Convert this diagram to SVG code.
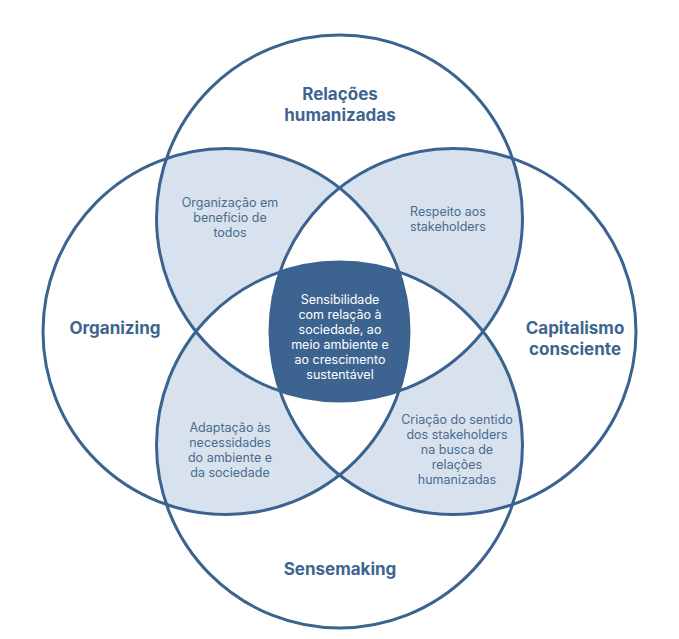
<svg xmlns="http://www.w3.org/2000/svg" width="679" height="639" viewBox="0 0 679 639">
<style>
.ring{fill:none;stroke:#3b6390;stroke-width:3}
.lens{fill:#d7e2ee}
.tri{fill:#ffffff}
.core{fill:#3d6491}
.lbl{font-family:Inter,"Liberation Sans",sans-serif;font-weight:700;font-size:17px;fill:#3e658f;text-anchor:middle}
.sm{font-family:Inter,"Liberation Sans",sans-serif;font-size:12.5px;fill:#4a6b8f;text-anchor:middle}
.wt{font-family:Inter,"Liberation Sans",sans-serif;font-size:12.5px;fill:#ffffff;text-anchor:middle}
</style>
<defs>
<clipPath id="cT"><circle cx="339.5" cy="218" r="183"/></clipPath>
<clipPath id="cB"><circle cx="339.5" cy="445" r="183"/></clipPath>
<clipPath id="cL"><circle cx="226" cy="331.5" r="183"/></clipPath>
<clipPath id="cR"><circle cx="453" cy="331.5" r="183"/></clipPath>
</defs>
<rect width="679" height="639" fill="#ffffff"/>
<g id="fills">
<g clip-path="url(#cL)"><circle class="lens" cx="339.5" cy="218" r="183"/></g>
<g clip-path="url(#cR)"><circle class="lens" cx="339.5" cy="218" r="183"/></g>
<g clip-path="url(#cL)"><circle class="lens" cx="339.5" cy="445" r="183"/></g>
<g clip-path="url(#cR)"><circle class="lens" cx="339.5" cy="445" r="183"/></g>
<g clip-path="url(#cL)"><g clip-path="url(#cR)"><circle class="tri" cx="339.5" cy="218" r="183"/></g></g>
<g clip-path="url(#cL)"><g clip-path="url(#cR)"><circle class="tri" cx="339.5" cy="445" r="183"/></g></g>
<g clip-path="url(#cT)"><g clip-path="url(#cB)"><circle class="tri" cx="226" cy="331.5" r="183"/></g></g>
<g clip-path="url(#cT)"><g clip-path="url(#cB)"><circle class="tri" cx="453" cy="331.5" r="183"/></g></g>
<g clip-path="url(#cT)"><g clip-path="url(#cB)"><g clip-path="url(#cL)"><circle class="core" cx="453" cy="331.5" r="183"/></g></g></g>
</g>
<g id="circle-relacoes">
<circle class="ring" cx="339.5" cy="218" r="183"/>
<text class="lbl"><tspan x="340" y="100">Relações</tspan><tspan x="340" y="121">humanizadas</tspan></text>
</g>
<g id="circle-sensemaking">
<circle class="ring" cx="339.5" cy="445" r="183"/>
<text class="lbl" x="340" y="575">Sensemaking</text>
</g>
<g id="circle-organizing">
<circle class="ring" cx="226" cy="331.5" r="183"/>
<text class="lbl" x="115" y="334">Organizing</text>
</g>
<g id="circle-capitalismo">
<circle class="ring" cx="453" cy="331.5" r="183"/>
<text class="lbl"><tspan x="575" y="334">Capitalismo</tspan><tspan x="575" y="355">consciente</tspan></text>
</g>
<g id="region-organizacao">
<text class="sm"><tspan x="230" y="207">Organização em</tspan><tspan x="230" y="222">benefício de</tspan><tspan x="230" y="237">todos</tspan></text>
</g>
<g id="region-respeito">
<text class="sm"><tspan x="448" y="216">Respeito aos</tspan><tspan x="448" y="231">stakeholders</tspan></text>
</g>
<g id="region-adaptacao">
<text class="sm"><tspan x="230" y="432">Adaptação às</tspan><tspan x="230" y="447">necessidades</tspan><tspan x="230" y="462">do ambiente e</tspan><tspan x="230" y="477">da sociedade</tspan></text>
</g>
<g id="region-criacao">
<text class="sm"><tspan x="457" y="424">Criação do sentido</tspan><tspan x="457" y="439">dos stakeholders</tspan><tspan x="457" y="454">na busca de</tspan><tspan x="457" y="469">relações</tspan><tspan x="457" y="484">humanizadas</tspan></text>
</g>
<g id="region-centro">
<text class="wt"><tspan x="340" y="304">Sensibilidade</tspan><tspan x="340" y="319">com relação à</tspan><tspan x="340" y="334">sociedade, ao</tspan><tspan x="340" y="349">meio ambiente e</tspan><tspan x="340" y="364">ao crescimento</tspan><tspan x="340" y="379">sustentável</tspan></text>
</g>
</svg>
